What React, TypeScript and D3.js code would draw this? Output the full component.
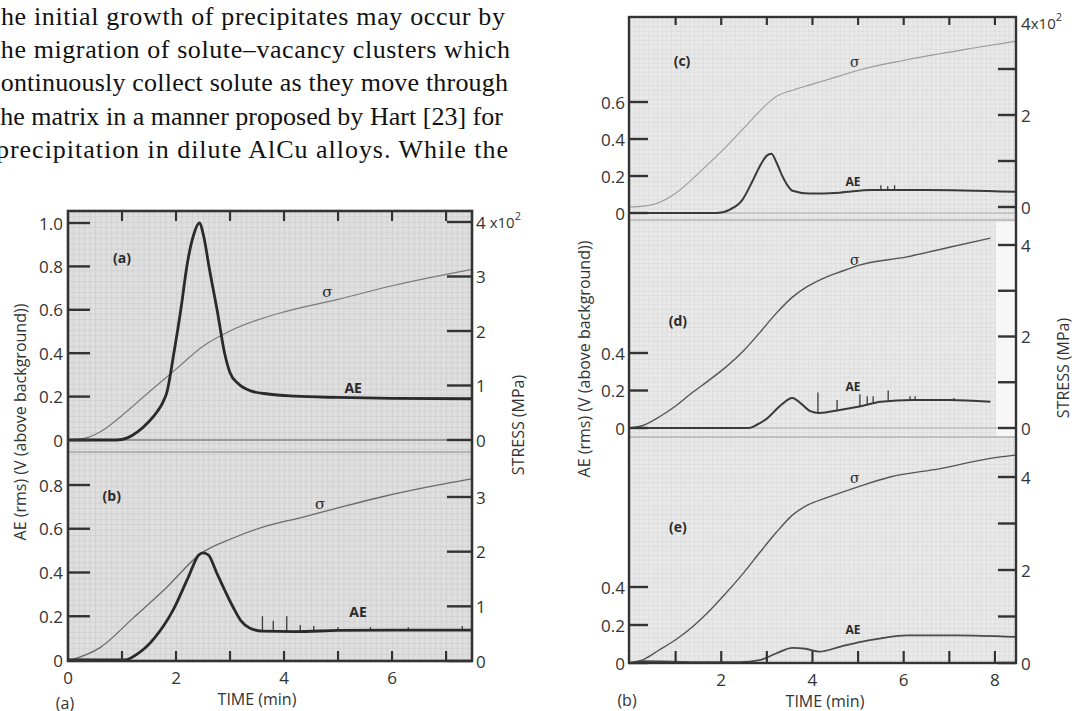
import React from "react";
import * as d3 from "d3";

type P = [number, number];

// ---------- text block ----------
const PARAGRAPH_LINES: string[] = [
  "the initial growth of precipitates may occur by",
  "the migration of solute\u2013vacancy clusters which",
  "continuously collect solute as they move through",
  "the matrix in a manner proposed by Hart [23] for",
  "precipitation in dilute AlCu alloys. While the",
];

// ---------- data: time (min), AE (V), stress (x10^2 MPa) ----------
const aAE: P[] = [[0, 0], [0.9, 0], [1.1, 0.01], [1.3, 0.04], [1.5, 0.085], [1.65, 0.13], [1.75, 0.17], [1.83, 0.22], [1.96, 0.4], [2.1, 0.62], [2.2, 0.8], [2.32, 0.94], [2.43, 1.0], [2.52, 0.93], [2.61, 0.8], [2.76, 0.6], [2.9, 0.4], [3.0, 0.31], [3.15, 0.26], [3.4, 0.225], [3.7, 0.212], [4.2, 0.202], [5.0, 0.196], [6.0, 0.192], [7.48, 0.19]];
const aStress: P[] = [[0, 0], [0.3, 0.03], [0.6, 0.15], [1.0, 0.45], [1.5, 0.88], [2.0, 1.3], [2.5, 1.72], [3.0, 2.0], [3.5, 2.2], [4.0, 2.35], [5.0, 2.58], [6.0, 2.83], [7.0, 3.04], [7.48, 3.13]];

const bAE: P[] = [[0, 0], [1.05, 0], [1.3, 0.03], [1.6, 0.1], [1.95, 0.23], [2.23, 0.38], [2.42, 0.48], [2.5, 0.49], [2.6, 0.48], [2.75, 0.4], [2.9, 0.32], [3.06, 0.24], [3.2, 0.18], [3.37, 0.145], [3.6, 0.132], [4.2, 0.13], [5.0, 0.135], [6.0, 0.137], [7.48, 0.137]];
const bStress: P[] = [[0, 0], [0.6, 0.25], [1.2, 0.78], [1.83, 1.35], [2.45, 1.96], [3.06, 2.25], [3.68, 2.47], [4.3, 2.62], [5.0, 2.8], [5.8, 3.0], [6.6, 3.17], [7.48, 3.33]];
const bSpikes: P[] = [[3.6, 0.2], [3.8, 0.18], [4.05, 0.2], [4.3, 0.16], [4.55, 0.155], [5.0, 0.15], [5.6, 0.15], [6.3, 0.15], [7.3, 0.155]];

const cAE: P[] = [[0, 0], [1.9, 0], [2.2, 0.02], [2.46, 0.07], [2.7, 0.18], [2.84, 0.25], [3.0, 0.31], [3.1, 0.32], [3.2, 0.28], [3.32, 0.21], [3.45, 0.15], [3.56, 0.12], [3.93, 0.105], [4.6, 0.11], [5.3, 0.125], [6.5, 0.125], [8.44, 0.115]];
const cStress: P[] = [[0, 0], [0.3, 0.02], [0.64, 0.1], [1.0, 0.3], [1.36, 0.6], [1.7, 0.92], [2.1, 1.3], [2.5, 1.72], [2.84, 2.08], [3.2, 2.4], [3.6, 2.55], [3.93, 2.65], [4.6, 2.85], [5.03, 2.98], [6.07, 3.2], [7.5, 3.45], [8.44, 3.6]];
const cSpikes: P[] = [[5.5, 0.15], [5.65, 0.145], [5.8, 0.15]];

const dAE: P[] = [[0, 0], [2.6, 0], [2.8, 0.02], [3.0, 0.05], [3.3, 0.12], [3.56, 0.16], [3.75, 0.13], [3.95, 0.09], [4.15, 0.08], [4.6, 0.096], [5.03, 0.115], [5.5, 0.14], [6.2, 0.15], [7.0, 0.15], [7.9, 0.14]];
const dStress: P[] = [[0, 0], [0.3, 0.06], [0.64, 0.24], [1.0, 0.48], [1.36, 0.77], [1.7, 1.02], [2.1, 1.33], [2.5, 1.7], [2.84, 2.08], [3.2, 2.5], [3.56, 2.86], [3.9, 3.1], [4.3, 3.3], [4.6, 3.41], [5.03, 3.56], [6.07, 3.74], [7.0, 3.95], [7.9, 4.15]];
const dSpikes: P[] = [[4.12, 0.19], [4.54, 0.15], [5.04, 0.18], [5.2, 0.17], [5.33, 0.17], [5.66, 0.2], [6.14, 0.17], [6.25, 0.17], [7.1, 0.16]];

const eAE: P[] = [[0, 0], [0.3, 0.01], [1.5, 0.005], [2.4, 0.005], [2.84, 0.015], [3.2, 0.05], [3.56, 0.08], [3.85, 0.075], [4.15, 0.06], [4.6, 0.085], [5.03, 0.11], [5.5, 0.13], [6.07, 0.145], [7.16, 0.145], [8.44, 0.137]];
const eStress: P[] = [[0, 0], [0.3, 0.08], [0.64, 0.28], [1.0, 0.5], [1.36, 0.77], [1.7, 1.08], [2.1, 1.5], [2.5, 1.95], [2.84, 2.37], [3.2, 2.8], [3.56, 3.18], [3.9, 3.4], [4.3, 3.55], [5.03, 3.8], [5.7, 4.0], [6.8, 4.18], [7.9, 4.4], [8.44, 4.47]];

// ---------- ticks ----------
const leftTimeTicks = [1, 2, 3, 4, 5, 6, 7];
const leftTimeLabels = [0, 2, 4, 6];
const rightTimeTicks = [1, 2, 3, 4, 5, 6, 7, 8];
const rightTimeLabels = [2, 4, 6, 8];
const aAETicks = [0, 0.2, 0.4, 0.6, 0.8, 1.0];
const bAETicks = [0, 0.2, 0.4, 0.6, 0.8];
const aStressTicks = [0, 1, 2, 3, 4];
const bStressTicks = [0, 1, 2, 3];
const cAETicks = [0, 0.2, 0.4, 0.6];
const deAETicks = [0, 0.2, 0.4];
const cStressTicks = [0, 1, 2, 3];
const deStressTicks = [0, 1, 2, 3, 4];

// ---------- scales ----------
const xL = d3.scaleLinear().domain([0, 7.48]).range([68, 472]);
const ya = d3.scaleLinear().domain([0, 1]).range([440, 223]);
const ysa = d3.scaleLinear().domain([0, 4]).range([440, 222]);
const yb = d3.scaleLinear().domain([0, 0.8]).range([660, 485]);
const ysb = d3.scaleLinear().domain([0, 3]).range([661, 497]);

const xR = d3.scaleLinear().domain([0, 8.44]).range([630, 1015]);
const yc = d3.scaleLinear().domain([0, 0.6]).range([213, 102]);
const ysc = d3.scaleLinear().domain([0, 4]).range([207, 23]);
const yd = d3.scaleLinear().domain([0, 0.4]).range([428, 353]);
const ysd = d3.scaleLinear().domain([0, 4]).range([428, 245]);
const ye = d3.scaleLinear().domain([0, 0.4]).range([663, 587]);
const yse = d3.scaleLinear().domain([0, 4]).range([663, 477]);

type S = d3.ScaleLinear<number, number>;

const path = (data: P[], x: S, y: S) =>
  d3.line<P>().x((d) => x(d[0])).y((d) => y(d[1])).curve(d3.curveMonotoneX)(data) || "";

const interp = (data: P[], t: number) => {
  const i = d3.bisector((d: P) => d[0]).left(data, t);
  if (i <= 0) return data[0][1];
  if (i >= data.length) return data[data.length - 1][1];
  const [t0, v0] = data[i - 1];
  const [t1, v1] = data[i];
  return v0 + ((t - t0) / (t1 - t0)) * (v1 - v0);
};

const fmt = (v: number) => (v === 0 ? "0" : v.toFixed(1));
const INK = "#333";
const FONT = "'Open Sans', 'DejaVu Sans', sans-serif";

function Spikes({ base, spikes, x, y }: { base: P[]; spikes: P[]; x: S; y: S }) {
  return (
    <g stroke="#3a3a3a" strokeWidth={1.3}>
      {spikes.map(([t, v], i) => (
        <line key={i} x1={x(t)} x2={x(t)} y1={y(interp(base, t))} y2={y(v)} />
      ))}
    </g>
  );
}

function LeftTicks({ ticks, y, x0, len, labelX, fmtFn }: { ticks: number[]; y: S; x0: number; len: number; labelX: number; fmtFn: (v: number) => string }) {
  return (
    <g>
      {ticks.map((v) => (
        <g key={v}>
          <line x1={x0} x2={x0 + len} y1={y(v)} y2={y(v)} stroke={INK} strokeWidth={2.4} />
          <text x={labelX} y={y(v)} textAnchor="end" dominantBaseline="central" fontSize={17} fill={INK} fontFamily={FONT}>
            {fmtFn(v)}
          </text>
        </g>
      ))}
    </g>
  );
}

function RightTicks({ ticks, labels, y, x1, len, labelX, topLabel }: { ticks: number[]; labels: number[]; y: S; x1: number; len: number; labelX: number; topLabel?: number }) {
  return (
    <g>
      {ticks.map((v) => (
        <line key={"t" + v} x1={x1 - len} x2={x1} y1={y(v)} y2={y(v)} stroke={INK} strokeWidth={2.4} />
      ))}
      {labels.map((v) => (
        <text key={"l" + v} x={labelX} y={y(v)} dominantBaseline="central" fontSize={17} fill={INK} fontFamily={FONT}>
          {v === topLabel ? (
            <>
              {v}
              <tspan fontSize={15}> x10</tspan>
              <tspan fontSize={11} dy={-7}>2</tspan>
            </>
          ) : (
            String(v)
          )}
        </text>
      ))}
    </g>
  );
}

function TimeTicks({ ticks, labels, x, top, bottom, topLen, botLen, labelY }: { ticks: number[]; labels: number[]; x: S; top: number; bottom: number; topLen: number; botLen: number; labelY: number }) {
  return (
    <g>
      {ticks.map((t) => (
        <g key={t}>
          <line x1={x(t)} x2={x(t)} y1={top} y2={top + topLen} stroke={INK} strokeWidth={2.2} />
          <line x1={x(t)} x2={x(t)} y1={bottom} y2={bottom - botLen} stroke={INK} strokeWidth={2.2} />
        </g>
      ))}
      {labels.map((t) => (
        <text key={"l" + t} x={x(t)} y={labelY} textAnchor="middle" dominantBaseline="central" fontSize={17} fill={INK} fontFamily={FONT}>
          {t}
        </text>
      ))}
    </g>
  );
}

function Label({ x, y, text, size = 13, bold = true, italic = false, serif = false }: { x: number; y: number; text: string; size?: number; bold?: boolean; italic?: boolean; serif?: boolean }) {
  return (
    <text x={x} y={y} textAnchor="middle" dominantBaseline="central" fontSize={size} fontWeight={bold ? 700 : 400} fontStyle={italic ? "italic" : "normal"} fill="#2a2a2a" fontFamily={serif ? "'DejaVu Serif', serif" : FONT}>
      {text}
    </text>
  );
}

const PARA_X: [number, number][] = [[-7, 505], [-7, 510], [-11, 508], [-7, 503], [-4, 508]];

export default function App() {
  const L = { x0: 68, x1: 472, y0: 211, y1: 661 };
  const R = { x0: 629, x1: 1016, y0: 17, y1: 663 };
  return (
    <svg width={1075} height={711} style={{ position: "absolute", left: 0, top: 0, background: "#fff" }}>
      <defs>
        <pattern id="gridL" x={68} y={211} width={5.4} height={5.4} patternUnits="userSpaceOnUse">
          <rect width={5.4} height={5.4} fill="#dfdfdf" />
          <path d="M0,0.3H5.4M0.3,0V5.4" stroke="#c8c8c8" strokeWidth={0.7} />
        </pattern>
        <pattern id="gridR" x={630} y={17} width={4.56} height={4.56} patternUnits="userSpaceOnUse">
          <rect width={4.56} height={4.56} fill="#e9e9e9" />
          <path d="M0,0.3H4.56M0.3,0V4.56" stroke="#d6d6d6" strokeWidth={0.6} />
        </pattern>
      </defs>
      <rect width={1075} height={711} fill="#fff" />

      {/* paragraph */}
      {PARAGRAPH_LINES.map((s, i) => (
        <text key={i} x={PARA_X[i][0]} y={25 + i * 33.2} textLength={PARA_X[i][1] - PARA_X[i][0]} lengthAdjust="spacing" fontFamily="'Liberation Serif', 'Times New Roman', serif" fontSize={26} fill="#111">
          {s}
        </text>
      ))}

      {/* ===== Left figure ===== */}
      <rect x={L.x0} y={L.y0} width={L.x1 - L.x0} height={L.y1 - L.y0} fill="url(#gridL)" />
      <line x1={L.x0} x2={L.x1} y1={ya(0)} y2={ya(0)} stroke="#555" strokeWidth={1.2} />
      <line x1={L.x0} x2={L.x1} y1={452} y2={452} stroke="#8a8a8a" strokeWidth={1} />
      <path d={path(aStress, xL, ysa)} fill="none" stroke="#7a7a7a" strokeWidth={1.2} />
      <path d={path(aAE, xL, ya)} fill="none" stroke="#2a2a2a" strokeWidth={2.8} />
      <path d={path(bStress, xL, ysb)} fill="none" stroke="#6a6a6a" strokeWidth={1.3} />
      <Spikes base={bAE} spikes={bSpikes} x={xL} y={yb} />
      <path d={path(bAE, xL, yb)} fill="none" stroke="#2a2a2a" strokeWidth={2.8} />

      <LeftTicks ticks={aAETicks} y={ya} x0={L.x0} len={22} labelX={63} fmtFn={fmt} />
      <LeftTicks ticks={bAETicks} y={yb} x0={L.x0} len={22} labelX={63} fmtFn={fmt} />
      <RightTicks ticks={aStressTicks} labels={aStressTicks} y={ysa} x1={L.x1} len={25} labelX={476} topLabel={4} />
      <RightTicks ticks={bStressTicks} labels={bStressTicks.filter((v) => v > 0)} y={ysb} x1={L.x1} len={25} labelX={476} />
      <text x={476} y={ysb(0)} dominantBaseline="central" fontSize={17} fill={INK} fontFamily={FONT}>0</text>
      <TimeTicks ticks={leftTimeTicks} labels={leftTimeLabels} x={xL} top={L.y0} bottom={L.y1} topLen={10} botLen={10} labelY={677} />
      <rect x={L.x0} y={L.y0} width={L.x1 - L.x0} height={L.y1 - L.y0} fill="none" stroke={INK} strokeWidth={2.6} />

      <Label x={xL(1.0)} y={ya(0.84)} text="(a)" size={14} />
      <Label x={xL(4.8)} y={ysa(2.72)} text="σ" size={15} bold={false} serif />
      <Label x={xL(5.28)} y={ya(0.24)} text="AE" size={14} />
      <Label x={xL(0.81)} y={yb(0.75)} text="(b)" size={14} />
      <Label x={xL(4.67)} y={ysb(2.87)} text="σ" size={15} bold={false} serif />
      <Label x={xL(5.37)} y={yb(0.22)} text="AE" size={14} />

      <text transform="translate(20,422) rotate(-90)" textAnchor="middle" dominantBaseline="central" fontSize={16} fill={INK} fontFamily={FONT}>
        AE (rms) (V (above background))
      </text>
      <text transform="translate(518,425) rotate(-90)" textAnchor="middle" dominantBaseline="central" fontSize={16} fill={INK} fontFamily={FONT}>
        STRESS (MPa)
      </text>
      <text x={257} y={699} textAnchor="middle" dominantBaseline="central" fontSize={16} fill={INK} fontFamily={FONT}>TIME (min)</text>
      <text x={65} y={703} textAnchor="middle" dominantBaseline="central" fontSize={16} fill={INK} fontFamily={FONT}>(a)</text>

      {/* ===== Right figure ===== */}
      <rect x={R.x0} y={R.y0} width={R.x1 - R.x0} height={R.y1 - R.y0} fill="url(#gridR)" />
      <rect x={996} y={222} width={R.x1 - 996} height={214} fill="#f7f7f7" />
      <line x1={R.x0} x2={R.x1} y1={yc(0)} y2={yc(0)} stroke="#aaa" strokeWidth={1} />
      <line x1={R.x0} x2={R.x1} y1={220} y2={220} stroke="#9a9a9a" strokeWidth={1} />
      <line x1={R.x0} x2={R.x1} y1={yd(0)} y2={yd(0)} stroke="#aaa" strokeWidth={1} />
      <line x1={R.x0} x2={R.x1} y1={437} y2={437} stroke="#9a9a9a" strokeWidth={1} />

      <path d={path(cStress, xR, ysc)} fill="none" stroke="#9a9a9a" strokeWidth={1.1} />
      <Spikes base={cAE} spikes={cSpikes} x={xR} y={yc} />
      <path d={path(cAE, xR, yc)} fill="none" stroke="#3a3a3a" strokeWidth={2} />
      <path d={path(dStress, xR, ysd)} fill="none" stroke="#555" strokeWidth={1.4} />
      <Spikes base={dAE} spikes={dSpikes} x={xR} y={yd} />
      <path d={path(dAE, xR, yd)} fill="none" stroke="#3a3a3a" strokeWidth={2} />
      <path d={path(eStress, xR, yse)} fill="none" stroke="#555" strokeWidth={1.4} />
      <path d={path(eAE, xR, ye)} fill="none" stroke="#4a4a4a" strokeWidth={1.8} />

      <LeftTicks ticks={cAETicks} y={yc} x0={R.x0} len={19} labelX={625} fmtFn={fmt} />
      <LeftTicks ticks={deAETicks} y={yd} x0={R.x0} len={19} labelX={625} fmtFn={fmt} />
      <LeftTicks ticks={deAETicks} y={ye} x0={R.x0} len={19} labelX={625} fmtFn={fmt} />
      <RightTicks ticks={cStressTicks} labels={[0, 2]} y={ysc} x1={R.x1} len={18} labelX={1021} />
      <text x={1021} y={ysc(4)} dominantBaseline="central" fontSize={17} fill={INK} fontFamily={FONT}>
        4<tspan fontSize={15}>x10</tspan><tspan fontSize={11} dy={-7}>2</tspan>
      </text>
      <RightTicks ticks={deStressTicks} labels={[0, 2, 4]} y={ysd} x1={R.x1} len={18} labelX={1021} />
      <RightTicks ticks={deStressTicks} labels={[0, 2, 4]} y={yse} x1={R.x1} len={18} labelX={1021} />
      <TimeTicks ticks={rightTimeTicks} labels={rightTimeLabels} x={xR} top={R.y0} bottom={R.y1} topLen={8} botLen={12} labelY={679} />
      <rect x={R.x0} y={R.y0} width={R.x1 - R.x0} height={R.y1 - R.y0} fill="none" stroke={INK} strokeWidth={2.4} />

      <Label x={xR(1.14)} y={yc(0.827)} text="(c)" size={14} />
      <Label x={xR(4.93)} y={ysc(3.15)} text="σ" size={14} bold={false} serif />
      <Label x={xR(4.89)} y={yc(0.168)} text="AE" size={12} />
      <Label x={xR(1.05)} y={yd(0.576)} text="(d)" size={14} />
      <Label x={xR(4.93)} y={ysd(3.67)} text="σ" size={14} bold={false} serif />
      <Label x={xR(4.89)} y={yd(0.22)} text="AE" size={12} />
      <Label x={xR(1.05)} y={ye(0.716)} text="(e)" size={14} />
      <Label x={xR(4.93)} y={yse(3.98)} text="σ" size={14} bold={false} serif />
      <Label x={xR(4.89)} y={ye(0.174)} text="AE" size={12} />

      <text transform="translate(584,359) rotate(-90)" textAnchor="middle" dominantBaseline="central" fontSize={16} fill={INK} fontFamily={FONT}>
        AE (rms) (V (above background))
      </text>
      <text transform="translate(1063,368) rotate(-90)" textAnchor="middle" dominantBaseline="central" fontSize={16} fill={INK} fontFamily={FONT}>
        STRESS (MPa)
      </text>
      <text x={825} y={701} textAnchor="middle" dominantBaseline="central" fontSize={16} fill={INK} fontFamily={FONT}>TIME (min)</text>
      <text x={627} y={700} textAnchor="middle" dominantBaseline="central" fontSize={16} fill={INK} fontFamily={FONT}>(b)</text>
    </svg>
  );
}
